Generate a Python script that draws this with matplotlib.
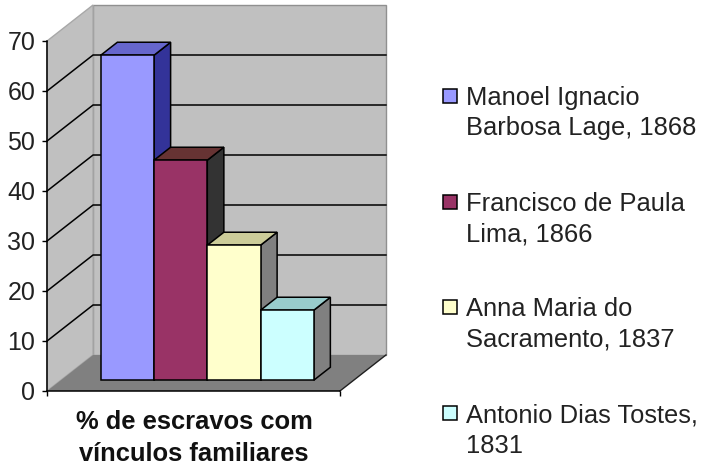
import matplotlib
matplotlib.use("Agg")
import matplotlib.pyplot as plt
from matplotlib.patches import Polygon, Rectangle

categories = ["Manoel Ignacio\nBarbosa Lage, 1868", "Francisco de Paula\nLima, 1866",
              "Anna Maria do\nSacramento, 1837", "Antonio Dias Tostes,\n1831"]
values = [65, 44, 27, 14]
front_colors = ["#9999FF", "#993366", "#FFFFCC", "#CCFFFF"]
top_colors = ["#6666CC", "#663333", "#CCCC99", "#99CCCC"]
side_colors = ["#333399", "#333333", "#808080", "#808080"]
y_ticks = [0, 10, 20, 30, 40, 50, 60, 70]
x_title = "% de escravos com\nvínculos familiares"

W, H = 709, 467
plt.rcParams["font.family"] = ["Liberation Sans", "DejaVu Sans"]
fig = plt.figure(figsize=(W / 100, H / 100), dpi=100, facecolor="white")
ax = fig.add_axes([0, 0, 1, 1], facecolor="white")

PX_X, PX_Y = 53.25, 5.0          # pixels per category / per value
X0_PX, Y0_PX = 87.0, 391.0       # where category 0, value 0 sits on the front plane
ax.set_xlim(-X0_PX / PX_X, (W - X0_PX) / PX_X)
ax.set_ylim(-(H - Y0_PX) / PX_Y, Y0_PX / PX_Y)

DX, DY = 46.0, 36.0              # depth vector of the box, pixels
XL, XR = -0.75, 4.75             # floor extent in category units
YMAX = y_ticks[-1]


def P(x, v, d=0.0):
    return (x + d * DX / PX_X, v + d * DY / PX_Y)


def poly(pts, fc, ec="none", lw=0.0, z=1):
    ax.add_patch(Polygon(pts, closed=True, facecolor=fc, edgecolor=ec, linewidth=lw,
                         joinstyle="miter", zorder=z))


# walls and floor
poly([P(XL, 0, 1), P(XR, 0, 1), P(XR, YMAX, 1), P(XL, YMAX, 1)], "#C0C0C0", "#909090", 1.0, 1)
poly([P(XL, 0, 0), P(XL, 0, 1), P(XL, YMAX, 1), P(XL, YMAX, 0)], "#C0C0C0", "#A8A8A8", 1.0, 1)
poly([P(XL, 0, 0), P(XR, 0, 0), P(XR, 0, 1), P(XL, 0, 1)], "#808080", "none", 0, 1.5)

# gridlines along side wall and back wall
for t in y_ticks[1:-1]:
    pts = [P(XL, t, 0), P(XL, t, 1), P(XR, t, 1)]
    ax.plot([p[0] for p in pts], [p[1] for p in pts], color="black", lw=1.1, zorder=2,
            solid_joinstyle="miter")
ax.plot(*zip(P(XR, 0, 0), P(XR, 0, 1)), color="#202020", lw=1.0, zorder=2)

# bars, left to right
D0, D1 = 0.30, 0.66
for i, (v, fc, tc, sc) in enumerate(zip(values, front_colors, top_colors, side_colors)):
    z = 3 + i
    l, r = i, i + 1
    poly([P(r, 0, D0), P(r, 0, D1), P(r, v, D1), P(r, v, D0)], sc, "black", 1.1, z)
    poly([P(l, v, D0), P(r, v, D0), P(r, v, D1), P(l, v, D1)], tc, "black", 1.1, z)
    poly([P(l, 0, D0), P(r, 0, D0), P(r, v, D0), P(l, v, D0)], fc, "black", 1.1, z + 0.5)

# real axes, placed on the front plane
for s in ("top", "right"):
    ax.spines[s].set_visible(False)
ax.spines["left"].set_position(("data", XL))
ax.spines["left"].set_bounds(0, YMAX)
ax.spines["bottom"].set_position(("data", 0))
ax.spines["bottom"].set_bounds(XL, XR)
for s in ("left", "bottom"):
    ax.spines[s].set_linewidth(1.1)
    ax.spines[s].set_zorder(20)
ax.set_yticks(y_ticks)
ax.set_xticks([XL, XR])
ax.set_xticklabels([])
ax.tick_params(axis="y", length=3.5, width=1.0, pad=5, labelsize=18, labelcolor="#222222")
ax.tick_params(axis="x", length=3.5, width=1.0)


def px(x, y):
    return ((x - X0_PX) / PX_X, (Y0_PX - y) / PX_Y)


# category title
ax.text(*px(194, 438), x_title, ha="center", va="center", fontsize=18.4, fontweight="bold",
        linespacing=1.42, color="#111111", zorder=20)

# legend
legend_y = [95.5, 202, 307, 413]
for label, fc, y in zip(categories, front_colors, legend_y):
    x0, y0 = px(443, y + 7)
    ax.add_patch(Rectangle((x0, y0), 14 / PX_X, 14 / PX_Y, facecolor=fc, edgecolor="black",
                           linewidth=1.1, zorder=20, clip_on=False))
    ax.text(*px(466, y - 10), label, ha="left", va="top", fontsize=18.4, linespacing=1.36,
            color="#222222", zorder=20)

fig.savefig("out.png", dpi=100, facecolor="white")
